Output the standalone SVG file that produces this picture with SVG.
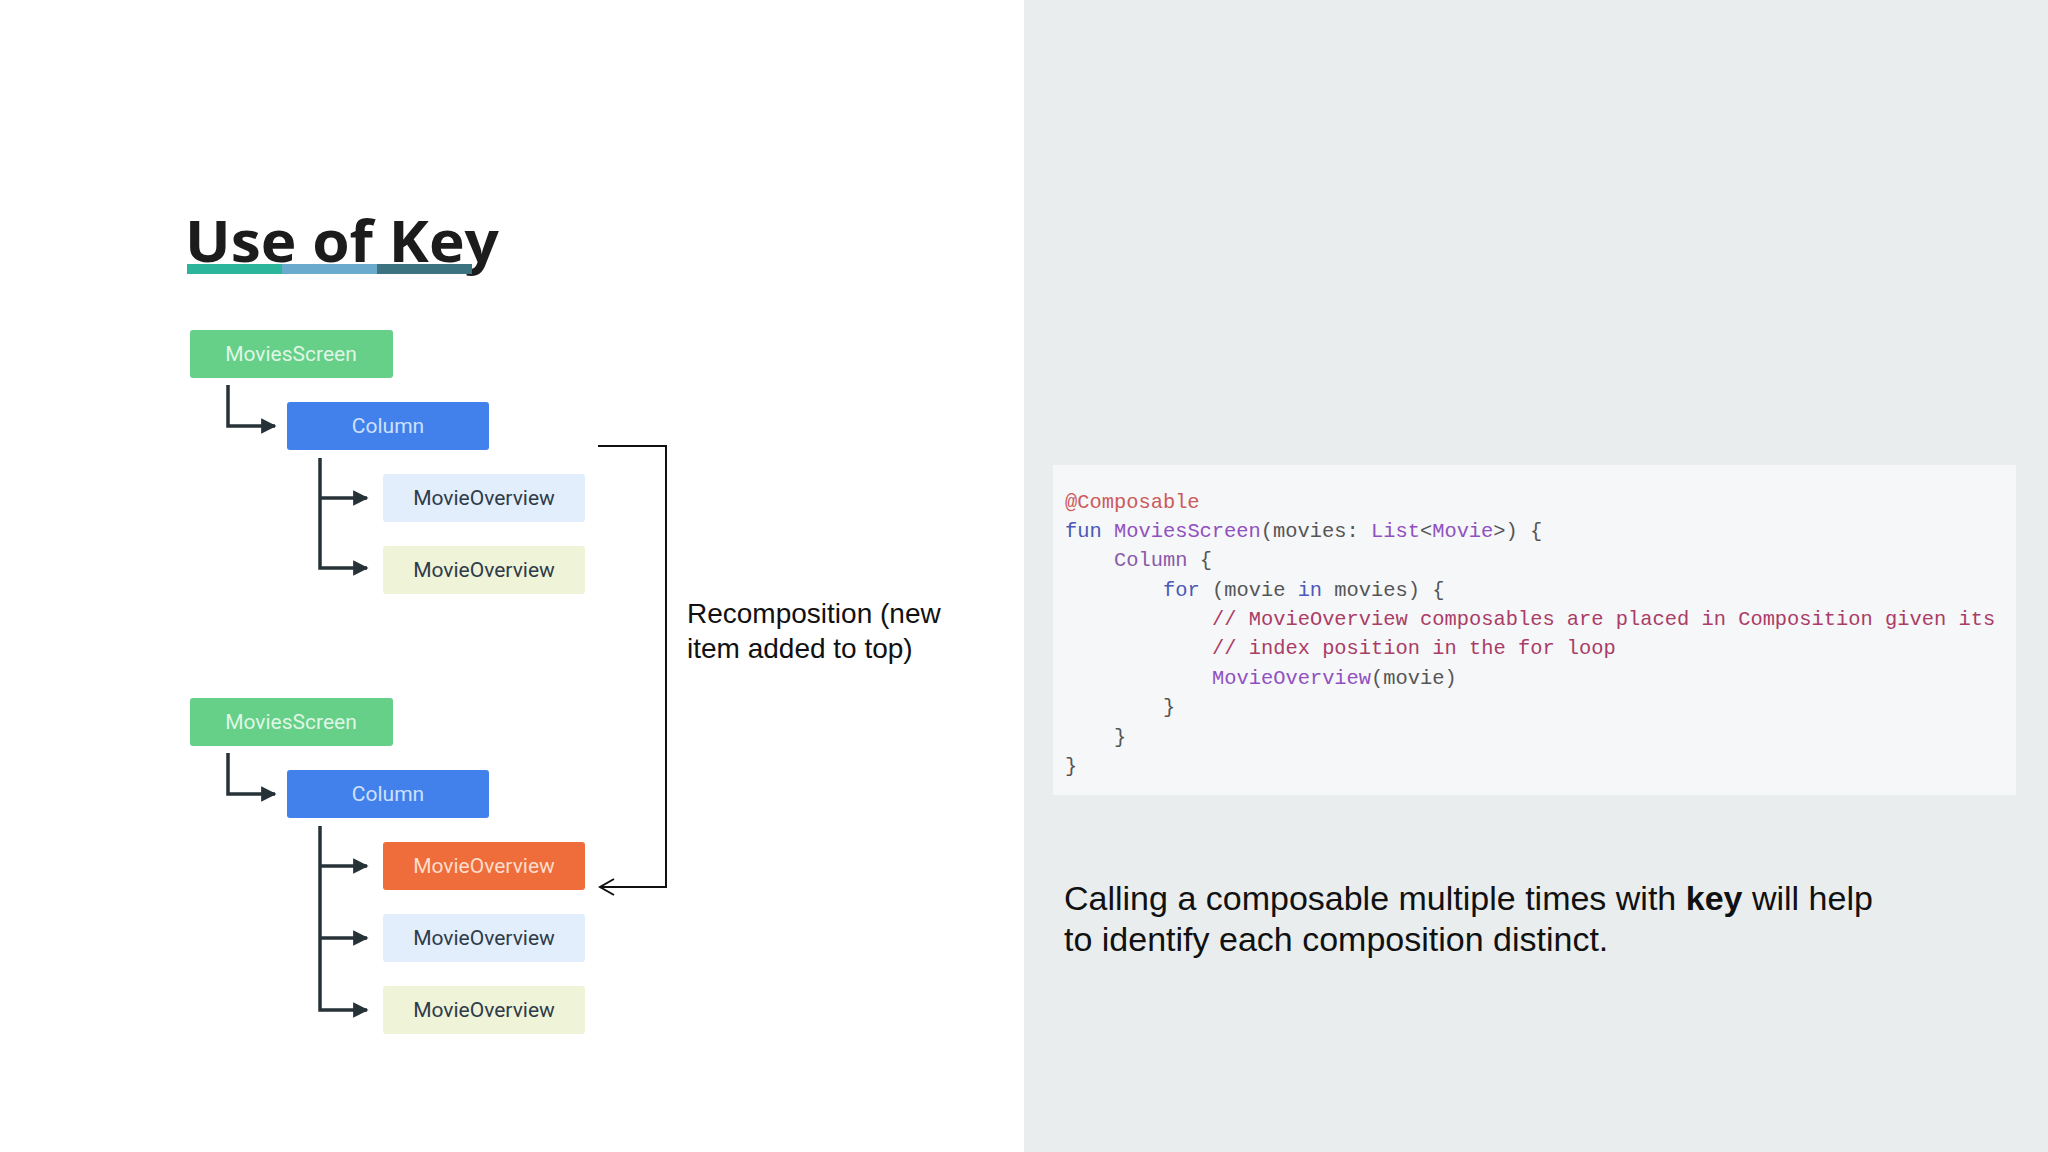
<svg xmlns="http://www.w3.org/2000/svg" width="2048" height="1152" viewBox="0 0 2048 1152">
<style>
.node text{font-family:Roboto,"Liberation Sans",sans-serif;font-size:21px;text-anchor:middle}
.lbl{font-family:"Liberation Sans",Arial,sans-serif;fill:#111}
.code{font-family:"Liberation Mono","DejaVu Sans Mono",monospace;font-size:20.4px;fill:#555;white-space:pre}
.kw{fill:#4a5ab8}.fn{fill:#9150c0}.cm{fill:#ab3c66}.an{fill:#cc5a5a}.ty{fill:#8a5aa8}
.wire{stroke:#263238;stroke-width:3.5;fill:none}
</style>
<defs>
<marker id="tri" viewBox="0 0 10 10" refX="9" refY="5" markerWidth="5.4" markerHeight="4.4" markerUnits="strokeWidth" orient="auto">
<path d="M0,0 L10,5 L0,10 z" fill="#263238"/>
</marker>
</defs>
<rect x="0" y="0" width="1024" height="1152" fill="#ffffff"/>
<rect x="1024" y="0" width="1024" height="1152" fill="#e9eded"/>

<g id="title">
<text x="185" y="262" font-family="'Open Sans','Liberation Sans',sans-serif" font-weight="700" font-size="58" fill="#1c1c1c" textLength="314" lengthAdjust="spacingAndGlyphs">Use of Key</text>
<rect x="187" y="264" width="95" height="10" fill="#2bb59a"/>
<rect x="282" y="264" width="95" height="10" fill="#6aaacd"/>
<rect x="377" y="264" width="95" height="10" fill="#3b7380"/>
</g>

<g id="tree1">
<g id="ms1" class="node"><rect x="190" y="330" width="203" height="48" rx="3" fill="#66cf88"/><text x="291" y="361" fill="#dff7e5">MoviesScreen</text></g>
<g id="col1" class="node"><rect x="287" y="402" width="202" height="48" rx="3" fill="#4280ec"/><text x="388" y="433" fill="#cfe0ff">Column</text></g>
<g id="mo1a" class="node"><rect x="383" y="474" width="202" height="48" rx="3" fill="#e2eefb"/><text x="484" y="505" fill="#2e3b48">MovieOverview</text></g>
<g id="mo1b" class="node"><rect x="383" y="546" width="202" height="48" rx="3" fill="#eff3d8"/><text x="484" y="577" fill="#2e3b48">MovieOverview</text></g>
</g>

<g id="tree2">
<g id="ms2" class="node"><rect x="190" y="698" width="203" height="48" rx="3" fill="#66cf88"/><text x="291" y="729" fill="#dff7e5">MoviesScreen</text></g>
<g id="col2" class="node"><rect x="287" y="770" width="202" height="48" rx="3" fill="#4280ec"/><text x="388" y="801" fill="#cfe0ff">Column</text></g>
<g id="mo2a" class="node"><rect x="383" y="842" width="202" height="48" rx="3" fill="#ee6d3a"/><text x="484" y="873" fill="#ffdccb">MovieOverview</text></g>
<g id="mo2b" class="node"><rect x="383" y="914" width="202" height="48" rx="3" fill="#e2eefb"/><text x="484" y="945" fill="#2e3b48">MovieOverview</text></g>
<g id="mo2c" class="node"><rect x="383" y="986" width="202" height="48" rx="3" fill="#eff3d8"/><text x="484" y="1017" fill="#2e3b48">MovieOverview</text></g>
</g>

<g id="connectors">
<path class="wire" d="M228,385 V426 H275" marker-end="url(#tri)"/>
<path class="wire" d="M320,458 V568 H367" marker-end="url(#tri)"/>
<path class="wire" d="M320,498 H367" marker-end="url(#tri)"/>
<path class="wire" d="M228,753 V794 H275" marker-end="url(#tri)"/>
<path class="wire" d="M320,826 V1010 H367" marker-end="url(#tri)"/>
<path class="wire" d="M320,866 H367" marker-end="url(#tri)"/>
<path class="wire" d="M320,938 H367" marker-end="url(#tri)"/>
<path d="M598,446 H666 V887 H601" fill="none" stroke="#111" stroke-width="2"/>
<path d="M614,879 L600,887 L614,895" fill="none" stroke="#111" stroke-width="2"/>
</g>

<g id="recomp-label">
<text class="lbl" x="687" y="623" font-size="28">Recomposition (new</text>
<text class="lbl" x="687" y="658" font-size="28">item added to top)</text>
</g>

<g id="code">
<rect x="1053" y="465" width="963" height="330" fill="#f5f7f9"/>
<text class="code" x="1065" y="508"><tspan class="an">@Composable</tspan></text>
<text class="code" x="1065" y="537"><tspan class="kw">fun</tspan> <tspan class="fn">MoviesScreen</tspan>(movies: <tspan class="fn">List</tspan>&lt;<tspan class="fn">Movie</tspan>&gt;) {</text>
<text class="code" x="1114" y="566"><tspan class="ty">Column</tspan> {</text>
<text class="code" x="1163" y="596"><tspan class="kw">for</tspan> (movie <tspan class="kw">in</tspan> movies) {</text>
<text class="code cm" x="1212" y="625">// MovieOverview composables are placed in Composition given its</text>
<text class="code cm" x="1212" y="654">// index position in the for loop</text>
<text class="code" x="1212" y="684"><tspan class="fn">MovieOverview</tspan>(movie)</text>
<text class="code" x="1163" y="713">}</text>
<text class="code" x="1114" y="743">}</text>
<text class="code" x="1065" y="772">}</text>
</g>

<g id="caption">
<text class="lbl" x="1064" y="910" font-size="34">Calling a composable multiple times with <tspan font-weight="700">key</tspan> will help</text>
<text class="lbl" x="1064" y="951" font-size="34">to identify each composition distinct.</text>
</g>
</svg>
